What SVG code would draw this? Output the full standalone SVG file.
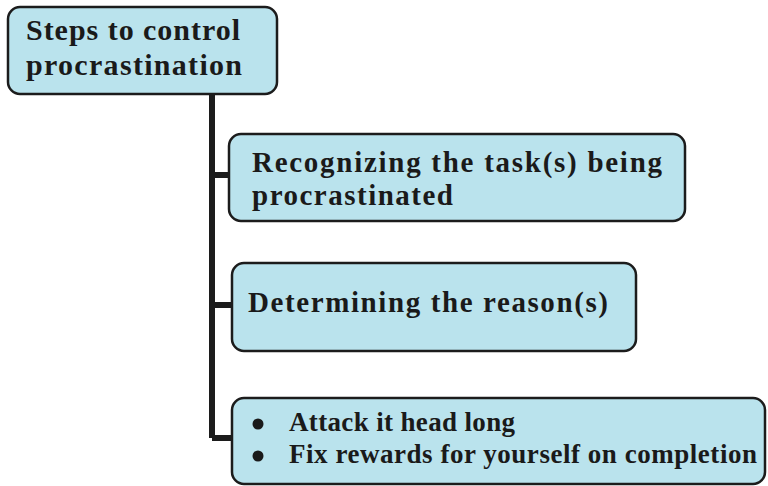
<svg xmlns="http://www.w3.org/2000/svg" width="768" height="486" viewBox="0 0 768 486">
<style>
.box{fill:#bae3ed;stroke:#1c1c1c;stroke-width:2.5}
.t{font-family:"Liberation Serif","DejaVu Serif",serif;font-weight:bold;fill:#1a1a1a}
.conn{stroke:#1c1c1c;stroke-width:6;fill:none}
</style>
<rect width="768" height="486" fill="#ffffff"/>
<g id="connectors">
<path class="conn" d="M212 94 V438 M212 175 H230 M212 305 H233 M212 438 H233"/>
</g>
<g id="root">
<rect class="box" x="8" y="7" width="269" height="87" rx="12"/>
<text class="t" x="26" y="40" font-size="30" textLength="214" lengthAdjust="spacing">Steps to control</text>
<text class="t" x="26" y="75" font-size="30" textLength="216" lengthAdjust="spacing">procrastination</text>
</g>
<g id="step1">
<rect class="box" x="229" y="134" width="456" height="87" rx="12"/>
<text class="t" x="252" y="172" font-size="29" textLength="410" lengthAdjust="spacing">Recognizing the task(s) being</text>
<text class="t" x="252" y="205" font-size="29" textLength="201" lengthAdjust="spacing">procrastinated</text>
</g>
<g id="step2">
<rect class="box" x="232" y="263" width="404" height="88" rx="12"/>
<text class="t" x="248" y="312" font-size="29" textLength="360" lengthAdjust="spacing">Determining the reason(s)</text>
</g>
<g id="step3">
<rect class="box" x="232" y="398" width="533" height="86" rx="12"/>
<circle cx="258" cy="424" r="5.5" fill="#1a1a1a"/>
<circle cx="258" cy="456" r="5.5" fill="#1a1a1a"/>
<text class="t" x="289" y="431" font-size="27" textLength="226" lengthAdjust="spacing">Attack it head long</text>
<text class="t" x="289" y="463" font-size="27" textLength="468" lengthAdjust="spacing">Fix rewards for yourself on completion</text>
</g>
</svg>
